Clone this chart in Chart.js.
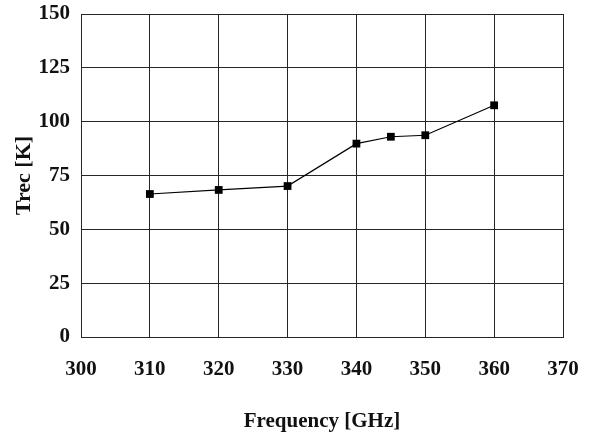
<!DOCTYPE html>
<html>
<head>
<meta charset="utf-8">
<script src="https://cdn.jsdelivr.net/npm/chart.js@4/dist/chart.umd.min.js"></script>
<style>
  html, body { margin: 0; padding: 0; background: #fff; }
  #wrap { width: 592px; height: 441px; }
</style>
</head>
<body>
<div id="wrap"><canvas id="myChart" width="592" height="441"></canvas></div>
<script>
(() => {
  'use strict'

  // Receiver noise temperature vs. LO frequency
  const frequency = [310, 320, 330, 340, 345, 350, 360];
  const trec = [66.4, 68.3, 70.1, 89.8, 93.0, 93.7, 107.6];

  const xTicks = [300, 310, 320, 330, 340, 350, 360, 370];
  const yTicks = [0, 25, 50, 75, 100, 125, 150];

  const serif = "'Liberation Serif', 'Times New Roman', serif";
  const lineColor = '#262626';

  const ctx = document.getElementById('myChart');
  new Chart(ctx, {
      type: 'scatter',
      data: {
          datasets: [{
              data: frequency.map((f, i) => ({ x: f, y: trec[i] })),
              showLine: true,
              borderColor: '#000',
              borderWidth: 1.2,
              backgroundColor: '#000',
              pointStyle: 'rect',
              pointRadius: 5.5,
              pointBackgroundColor: '#000',
              pointBorderWidth: 0
          }]
      },
      options: {
          responsive: false,
          animation: false,
          events: [],
          layout: { padding: { top: 14, right: 29, bottom: 0, left: 0 } },
          plugins: {
              legend: { display: false },
              tooltip: { enabled: false }
          },
          scales: {
              x: {
                  type: 'linear',
                  min: xTicks[0],
                  max: xTicks[xTicks.length - 1],
                  afterBuildTicks: axis => { axis.ticks = xTicks.map(v => ({ value: v })); },
                  afterFit: axis => {
                      // fixed axis band, no extra room for label overhang
                      axis.height = 104;
                      axis.paddingLeft = 0;
                      axis.paddingRight = 0;
                  },
                  grid: { color: lineColor, lineWidth: 1, drawTicks: false },
                  border: { color: lineColor, width: 1 },
                  ticks: {
                      padding: 20,
                      color: '#111',
                      font: { family: serif, size: 21, weight: 'bold' }
                  },
                  title: {
                      display: true,
                      text: 'Frequency [GHz]',
                      color: '#111',
                      padding: { top: 0, bottom: 7 },
                      font: { family: serif, size: 21, weight: 'bold' }
                  }
              },
              y: {
                  min: yTicks[0],
                  max: yTicks[yTicks.length - 1],
                  afterBuildTicks: axis => { axis.ticks = yTicks.map(v => ({ value: v })); },
                  afterFit: axis => {
                      axis.width = 81;
                      axis.paddingTop = 0;
                      axis.paddingBottom = 0;
                  },
                  grid: { color: lineColor, lineWidth: 1, drawTicks: false },
                  border: { color: lineColor, width: 1 },
                  ticks: {
                      padding: 11,
                      color: '#111',
                      font: { family: serif, size: 21, weight: 'bold' }
                  },
                  title: {
                      display: true,
                      text: 'Trec [K]',
                      color: '#111',
                      padding: { top: 11, bottom: 0 },
                      font: { family: serif, size: 22, weight: 'bold' }
                  }
              }
          }
      }
  });
})();
</script>
</body>
</html>
